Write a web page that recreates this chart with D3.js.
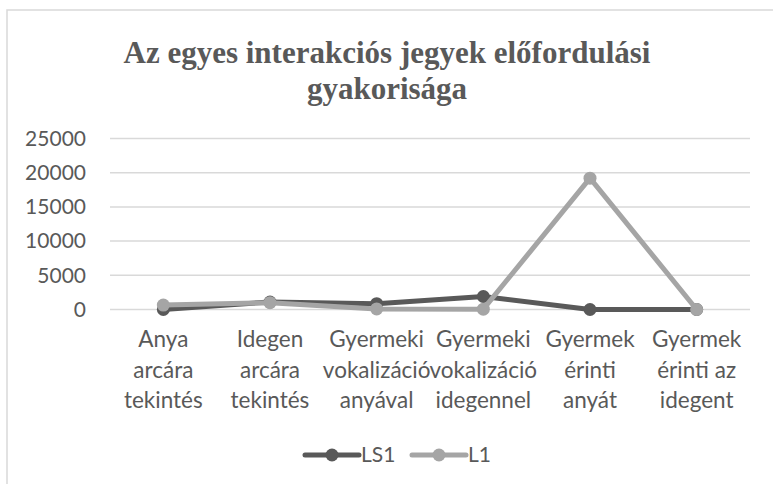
<!DOCTYPE html>
<html>
<head>
<meta charset="UTF-8">
<script src="https://cdn.jsdelivr.net/npm/d3@7"></script>
<style>
  body { margin: 0; background: #fff; }
  svg text { font-family: Lato, "Open Sans", sans-serif; fill: #595959; }
  .title { font-family: "Liberation Serif", "Times New Roman", serif; font-weight: bold; font-size: 31px; }
  .grid line { stroke: #d9d9d9; stroke-width: 1.5; }
  .line { fill: none; stroke-width: 5; stroke-linejoin: round; }
</style>
</head>
<body>
<svg width="773" height="484"></svg>
<script>
// data
var categories = [
  'Anya\narcára\ntekintés',
  'Idegen\narcára\ntekintés',
  'Gyermeki\nvokalizáció\nanyával',
  'Gyermeki\nvokalizáció\nidegennel',
  'Gyermek\nérinti\nanyát',
  'Gyermek\nérinti az\nidegent'
];
var ls1 = [0, 1100, 850, 1900, 0, 0];
var l1 = [650, 1000, 80, 50, 19200, 0];
var yTicks = [0, 5000, 10000, 15000, 20000, 25000];
var seriesNames = ['LS1', 'L1'];
var seriesColors = ['#595959', '#a5a5a5'];

var svg = d3.select('svg');

// chart frame
svg.append('rect')
  .attr('x', 7).attr('y', 10)
  .attr('width', 800).attr('height', 500)
  .attr('fill', '#fff')
  .attr('stroke', '#d9d9d9')
  .attr('stroke-width', 1.5);

// title
var title = svg.append('text').attr('class', 'title').attr('text-anchor', 'middle');
title.append('tspan').attr('x', 387).attr('y', 63).text('Az egyes interakciós jegyek előfordulási');
title.append('tspan').attr('x', 387).attr('y', 99).text('gyakorisága');

var x = d3.scalePoint()
  .domain(d3.range(categories.length))
  .range([110, 750])
  .padding(0.5);

var y = d3.scaleLinear()
  .domain([0, 25000])
  .range([309.5, 138.5]);

// gridlines
svg.append('g').attr('class', 'grid')
  .selectAll('line')
  .data(yTicks)
  .enter().append('line')
    .attr('x1', 110).attr('x2', 750)
    .attr('y1', function(d) { return y(d); })
    .attr('y2', function(d) { return y(d); });

// y axis labels
var yAxis = svg.append('g')
  .attr('transform', 'translate(110,0)')
  .call(d3.axisLeft(y).tickValues(yTicks).tickSize(0).tickPadding(24).tickFormat(d3.format('d')));
yAxis.select('.domain').remove();
yAxis.selectAll('text')
  .attr('font-size', 21)
  .attr('font-family', 'Lato, sans-serif')
  .attr('fill', '#595959');

// x category labels
var catLabel = svg.append('g')
  .selectAll('text')
  .data(categories)
  .enter().append('text')
    .attr('text-anchor', 'middle')
    .attr('font-size', 22.5);
catLabel.selectAll('tspan')
  .data(function(d, i) { return d.split('\n').map(function(t) { return {t: t, i: i}; }); })
  .enter().append('tspan')
    .attr('x', function(d) { return x(d.i); })
    .attr('y', function(d, j) { return 347 + j * 30.5; })
    .text(function(d) { return d.t; });

// series
var series = [ls1, l1];
var line = d3.line()
  .x(function(d, i) { return x(i); })
  .y(function(d) { return y(d); });

series.forEach(function(s, k) {
  var g = svg.append('g');
  g.append('path')
    .attr('class', 'line')
    .attr('d', line(s))
    .attr('stroke', seriesColors[k]);
  g.selectAll('circle')
    .data(s)
    .enter().append('circle')
      .attr('cx', function(d, i) { return x(i); })
      .attr('cy', function(d) { return y(d); })
      .attr('r', 6.5)
      .attr('fill', seriesColors[k]);
});

// legend
var legendX = [305, 412];
var legend = svg.append('g')
  .selectAll('g')
  .data(seriesNames)
  .enter().append('g')
    .attr('transform', function(d, i) { return 'translate(' + legendX[i] + ',455)'; });
legend.append('line')
  .attr('x1', 0).attr('x2', 54)
  .attr('stroke', function(d, i) { return seriesColors[i]; })
  .attr('stroke-width', 5)
  .attr('stroke-linecap', 'round');
legend.append('circle')
  .attr('cx', 27).attr('r', 6.5)
  .attr('fill', function(d, i) { return seriesColors[i]; });
legend.append('text')
  .attr('x', 56).attr('dy', '0.35em')
  .attr('font-size', 21)
  .text(function(d) { return d; });
</script>
</body>
</html>
